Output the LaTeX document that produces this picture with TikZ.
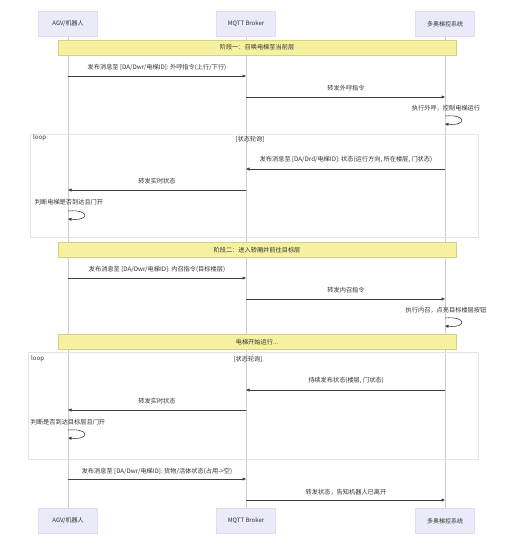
\documentclass[tikz,border=0pt]{standalone}
\usepackage{fontspec}
\setmainfont{Noto Sans CJK SC}
\usetikzlibrary{arrows.meta,calc}
\definecolor{actfill}{RGB}{234,234,248}
\definecolor{actdraw}{RGB}{222,222,240}
\definecolor{notefill}{RGB}{246,241,160}
\definecolor{notedraw}{RGB}{214,210,130}
\definecolor{lifeline}{RGB}{205,205,205}
\definecolor{loopdraw}{RGB}{228,228,228}
\definecolor{txt}{RGB}{50,50,50}
\tikzset{
  actor/.style={draw=actdraw, fill=actfill, minimum width=59pt, minimum height=25pt, inner sep=0pt, font=\fontsize{6}{7}\selectfont, text=txt},
  notebox/.style={draw=notedraw, fill=notefill, minimum width=398pt, minimum height=15pt, inner sep=0pt, font=\fontsize{6.2}{7}\selectfont, text=txt},
  msg/.style={draw=black!75, line width=0.6pt, -{Triangle[length=3.5pt,width=3pt]}},
  lbl/.style={font=\fontsize{6.2}{7}\selectfont, text=txt, inner sep=0pt},
  life/.style={draw=lifeline, line width=0.5pt},
  loopbox/.style={draw=loopdraw, line width=0.5pt},
}
\begin{document}
\begin{tikzpicture}[x=1pt,y=-1pt]
\useasboundingbox[fill=white] (0,0) rectangle (514,546);
% actors
\node[actor] (A) at (68,24) {AGV/机器人};
\node[actor] (B) at (246,24) {MQTT Broker};
\node[actor] (C) at (445,24) {多奥梯控系统};
\node[actor] (A2) at (68,521) {AGV/机器人};
\node[actor] (B2) at (246,521) {MQTT Broker};
\node[actor] (C2) at (445,521) {多奥梯控系统};
% lifelines
\draw[life] (A) -- (A2);
\draw[life] (B) -- (B2);
\draw[life] (C) -- (C2);
% loop boxes
\draw[loopbox] (30,134) rectangle (478,237);
\node[lbl, anchor=west] (L1) at (33,138) {loop};
\node[lbl] (L1c) at (250,139) {[状态轮询]};
\draw[loopbox] (28,352) rectangle (478,459);
\node[lbl, anchor=west] (L2) at (31,359) {loop};
\node[lbl] (L2c) at (248,359) {[状态轮询]};
% stage 1
\node[notebox] (N1) at (257,47.5) {阶段一：召唤电梯至当前层};
\node[lbl] (t1) at (157,67) {发布消息至 [DA/Dwr/电梯ID]: 外呼指令(上行/下行)};
\draw[msg] (A |- 0,76) -- (B |- 0,76);
\node[lbl] (t2) at (346,88) {转发外呼指令};
\draw[msg] (B |- 0,97) -- (C |- 0,97);
\node[lbl] (t3) at (446,108) {执行外呼，控制电梯运行};
\draw[msg] (C |- 0,116) .. controls ($(C |- 0,114)+(22,0)$) and ($(C |- 0,126)+(22,0)$) .. (C |- 0,124);
\node[lbl] (t4) at (346,159) {发布消息至 [DA/Drd/电梯ID]: 状态(运行方向, 所在楼层, 门状态)};
\draw[msg] (C |- 0,169) -- (B |- 0,169);
\node[lbl] (t5) at (157,181) {转发实时状态};
\draw[msg] (B |- 0,190) -- (A |- 0,190);
\node[lbl] (t6) at (69,202) {判断电梯是否到达且门开};
\draw[msg] (A |- 0,211) .. controls ($(A |- 0,209)+(22,0)$) and ($(A |- 0,221)+(22,0)$) .. (A |- 0,219);
% stage 2
\node[notebox] (N2) at (257,250) {阶段二：进入轿厢并前往目标层};
\node[lbl] (t7) at (157,269) {发布消息至 [DA/Dwr/电梯ID]: 内召指令(目标楼层)};
\draw[msg] (A |- 0,278) -- (B |- 0,278);
\node[lbl] (t8) at (346,290) {转发内召指令};
\draw[msg] (B |- 0,299) -- (C |- 0,299);
\node[lbl] (t9) at (446,310) {执行内召，点亮目标楼层按钮};
\draw[msg] (C |- 0,318) .. controls ($(C |- 0,316)+(22,0)$) and ($(C |- 0,328)+(22,0)$) .. (C |- 0,326);
\node[notebox] (N3) at (257,342) {电梯开始运行...};
\node[lbl] (t10) at (346,380) {持续发布状态(楼层, 门状态)};
\draw[msg] (C |- 0,390) -- (B |- 0,390);
\node[lbl] (t11) at (157,401) {转发实时状态};
\draw[msg] (B |- 0,410) -- (A |- 0,410);
\node[lbl] (t12) at (68,422) {判断是否到达目标层且门开};
\draw[msg] (A |- 0,430) .. controls ($(A |- 0,428)+(22,0)$) and ($(A |- 0,440)+(22,0)$) .. (A |- 0,438);
\node[lbl] (t13) at (157,471) {发布消息至 [DA/Dwr/电梯ID]: 货物/活体状态(占用->空)};
\draw[msg] (A |- 0,479) -- (B |- 0,479);
\node[lbl] (t14) at (346,492) {转发状态，告知机器人已离开};
\draw[msg] (B |- 0,500) -- (C |- 0,500);
\end{tikzpicture}
\end{document}
